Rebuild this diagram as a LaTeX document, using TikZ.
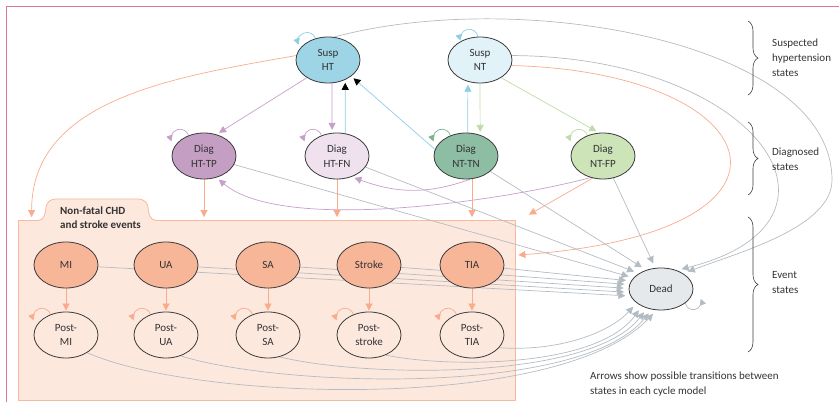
\documentclass[tikz,border=0pt]{standalone}
\usepackage{fontspec}
\setmainfont{Carlito}
\usetikzlibrary{shapes.geometric,arrows.meta,decorations.pathreplacing}

\definecolor{framepink}{HTML}{E2739B}
\definecolor{nodeline}{HTML}{3C3C3C}
\definecolor{inktext}{HTML}{333333}
\definecolor{sushtfill}{HTML}{9DD5E7}
\definecolor{susntfill}{HTML}{E1F2F9}
\definecolor{tpfill}{HTML}{C59FC3}
\definecolor{fnfill}{HTML}{EFE1EE}
\definecolor{tnfill}{HTML}{8DBDA3}
\definecolor{fpfill}{HTML}{CDE3B8}
\definecolor{eventfill}{HTML}{F8B699}
\definecolor{boxfill}{HTML}{FDE8DE}
\definecolor{boxline}{HTML}{F8B9A0}
\definecolor{deadfill}{HTML}{E6E9EC}
\definecolor{bluearr}{HTML}{8CCFE5}
\definecolor{purplearr}{HTML}{C79FCA}
\definecolor{greenarr}{HTML}{BEDCA6}
\definecolor{darkgreenarr}{HTML}{7DB393}
\definecolor{salmonarr}{HTML}{F9AB8C}
\definecolor{grayarr}{HTML}{B4BCC3}

\pgfdeclarelayer{back}
\pgfdeclarelayer{edges}
\pgfsetlayers{back,edges,main}

\tikzset{
  state/.style={ellipse, draw=nodeline, line width=0.8pt, minimum width=64pt,
    minimum height=46pt, inner sep=0pt, align=center, text=inktext,
    font=\fontsize{11}{14.5}\selectfont},
  trans/.style={line width=0.7pt, shorten >=3pt, -{Triangle[length=7pt,width=7pt]}},
  todead/.style={trans, grayarr, shorten >=5pt},
  blacktip/.style={-{Triangle[length=7pt,width=7pt,color=black]}},
  selfloop/.style={line width=0.7pt, -{Triangle[length=6pt,width=6.5pt]}},
  statebrace/.style={decorate, decoration={brace, amplitude=10pt}, draw=nodeline, line width=0.6pt},
  bracelabel/.style={anchor=west, align=left, inner sep=0pt, text=inktext,
    font=\fontsize{11}{15}\selectfont},
}

\begin{document}
\begin{tikzpicture}[x=1pt, y=1pt]
    \useasboundingbox (0,0) rectangle (839,402);

    % Frame
    \draw[framepink, line width=0.9pt] (6,0) -- (6,396) -- (839,396);

    % Suspected and diagnosed states
    \node[state, fill=sushtfill] (sht) at (328,342) {Susp\\HT};
    \node[state, fill=susntfill] (snt) at (480,342) {Susp\\NT};
    \node[state, fill=tpfill] (dtp) at (204,246) {Diag\\HT-TP};
    \node[state, fill=fnfill] (dfn) at (337,246) {Diag\\HT-FN};
    \node[state, fill=tnfill] (dtn) at (466,246) {Diag\\NT-TN};
    \node[state, fill=fpfill] (dfp) at (603,246) {Diag\\NT-FP};

    % Event states
    \node[state, fill=eventfill] (mi) at (66,137) {MI};
    \node[state, fill=eventfill] (ua) at (166,137) {UA};
    \node[state, fill=eventfill] (sa) at (268,137) {SA};
    \node[state, fill=eventfill] (stroke) at (369,137) {Stroke};
    \node[state, fill=eventfill] (tia) at (472,137) {TIA};
    \node[state, fill=boxfill] (pmi) at (66,67) {Post-\\MI};
    \node[state, fill=boxfill] (pua) at (166,67) {Post-\\UA};
    \node[state, fill=boxfill] (psa) at (268,67) {Post-\\SA};
    \node[state, fill=boxfill] (pstroke) at (369,67) {Post-\\stroke};
    \node[state, fill=boxfill] (ptia) at (472,67) {Post-\\TIA};
    \node[state, fill=deadfill, minimum height=42pt] (dead) at (661,113) {Dead};

    % Event box with its tab
    \begin{pgfonlayer}{back}
        \node[draw=boxline, fill=boxfill, line width=0.8pt, minimum width=497pt,
            minimum height=179.5pt, inner sep=0pt] (events) at (266.5,91.75) {};
        \fill[boxfill] (38,180.5) -- (38,181.5) to[out=0,in=-95] (46,195) to[out=85,in=180] (56,203)
            -- (138,203) to[out=0,in=95] (148,195) to[out=-85,in=180] (156,181.5) -- (156,180.5) -- cycle;
        \draw[boxline, line width=0.8pt] (38,181.5) to[out=0,in=-95] (46,195) to[out=85,in=180] (56,203)
            -- (138,203) to[out=0,in=95] (148,195) to[out=-85,in=180] (156,181.5);
    \end{pgfonlayer}
    \node[anchor=west, align=left, inner sep=0pt, text=inktext, font=\fontsize{11}{14.5}\selectfont\bfseries]
        (tablabel) at (60,184.5) {Non-fatal CHD\\and stroke events};

    \begin{pgfonlayer}{edges}
        % Self loops
        \draw[selfloop, bluearr] (sht.120) arc[start angle=20, end angle=200, radius=9pt];
        \draw[selfloop, bluearr] (snt.95) arc[start angle=10, end angle=195, radius=9pt];
        \draw[selfloop, purplearr] (dtp.127) arc[start angle=18, end angle=200, radius=9pt];
        \draw[selfloop, purplearr] (dfn.127) arc[start angle=18, end angle=200, radius=9pt];
        \draw[selfloop, darkgreenarr] (dtn.127) arc[start angle=18, end angle=200, radius=9pt];
        \draw[selfloop, greenarr] (dfp.127) arc[start angle=18, end angle=200, radius=9pt];
        \draw[selfloop, salmonarr] (pmi.127) arc[start angle=18, end angle=200, radius=9pt];
        \draw[selfloop, salmonarr] (pua.127) arc[start angle=18, end angle=200, radius=9pt];
        \draw[selfloop, salmonarr] (psa.127) arc[start angle=18, end angle=200, radius=9pt];
        \draw[selfloop, salmonarr] (pstroke.127) arc[start angle=18, end angle=200, radius=9pt];
        \draw[selfloop, salmonarr] (ptia.127) arc[start angle=18, end angle=200, radius=9pt];
        \draw[selfloop, grayarr] (dead.-30) arc[start angle=190, end angle=380, radius=8pt];

        % Back to suspected states
        \draw[trans, bluearr] (dtn.86) -- (snt.-119);
        \draw[trans, bluearr, blacktip] (dfn.70) -- (sht.-49);
        \draw[trans, bluearr, blacktip] (dtn.168) -- (sht.-35);

        % Diagnosis
        \draw[trans, purplearr] (sht.-140) -- (dtp.60);
        \draw[trans, purplearr] (sht.-80) -- (dfn.102);
        \draw[trans, greenarr] (snt.-90) -- (dtn.56);
        \draw[trans, greenarr] (snt.-40) -- (dfp.100);
        \draw[trans, purplearr] (dtn.-80) to[out=-160, in=-20] (dfn.-55);
        \draw[trans, purplearr] (dfp.-120) to[out=-165, in=-40, looseness=0.6] (dtp.-60);

        % Into the events
        \draw[trans, salmonarr] (sht.172) to[out=190, in=90] ([xshift=14pt]events.north west);
        \draw[trans, salmonarr] (dtp) -- (dtp |- events.north);
        \draw[trans, salmonarr] (dfn) -- (dfn |- events.north);
        \draw[trans, salmonarr] ([xshift=6pt]dtn.south) -- ([xshift=6pt]dtn.south |- events.north);
        \draw[trans, salmonarr] (dfp.-115) -- ([shift={(11pt,4pt)}]events.north east);
        \draw[trans, salmonarr] (snt.-10) .. controls (770,330) and (830,170) .. ([yshift=55pt]events.east);
        \draw[trans, salmonarr, shorten >=1pt] (mi) -- (pmi);
        \draw[trans, salmonarr, shorten >=1pt] (ua) -- (pua);
        \draw[trans, salmonarr, shorten >=1pt] (sa) -- (psa);
        \draw[trans, salmonarr, shorten >=1pt] (stroke) -- (pstroke);
        \draw[trans, salmonarr, shorten >=1pt] (tia) -- (ptia);

        % Death
        \draw[todead] (sht.75) .. controls (520,415) and (832,360) .. (832,222)
            .. controls (832,175) and (740,150) .. (dead.35);
        \draw[todead] (snt.8) .. controls (760,345) and (870,180) .. (dead.50);
        \draw[todead] (dtp) -- (dead.158);
        \draw[todead] (dfn) -- (dead.145);
        \draw[todead] (dtn) -- (dead.128);
        \draw[todead] (dfp) -- (dead.105);
        \draw[todead] (tia) -- (dead.165);
        \draw[todead] (stroke) -- (dead.172);
        \draw[todead] (sa) -- (dead.179);
        \draw[todead] (ua) -- (dead.186);
        \draw[todead] (mi) -- (dead.193);
        \draw[todead] (pmi.-40) .. controls (200,0) and (560,-10) .. (dead.-102);
        \draw[todead] (pua.-55) .. controls (280,15) and (580,5) .. (dead.-114);
        \draw[todead] (psa.-62) .. controls (360,25) and (590,20) .. (dead.-126);
        \draw[todead] (pstroke.-50) .. controls (440,35) and (595,32) .. (dead.-138);
        \draw[todead] (ptia.-25) .. controls (560,50) and (610,70) .. (dead.-150);
    \end{pgfonlayer}

    % Braces and notes
    \draw[statebrace] (748,381) -- (748,307);
    \draw[statebrace] (748,280) -- (748,207);
    \draw[statebrace] (748,185) -- (748,50);
    \node[bracelabel] (suslabel) at (772,344) {Suspected\\hypertension\\states};
    \node[bracelabel] (diaglabel) at (772,243) {Diagnosed\\states};
    \node[bracelabel] (eventlabel) at (772,119) {Event\\states};
    \node[bracelabel] (note) at (590,17.5) {Arrows show possible transitions between\\states in each cycle model};
\end{tikzpicture}
\end{document}
